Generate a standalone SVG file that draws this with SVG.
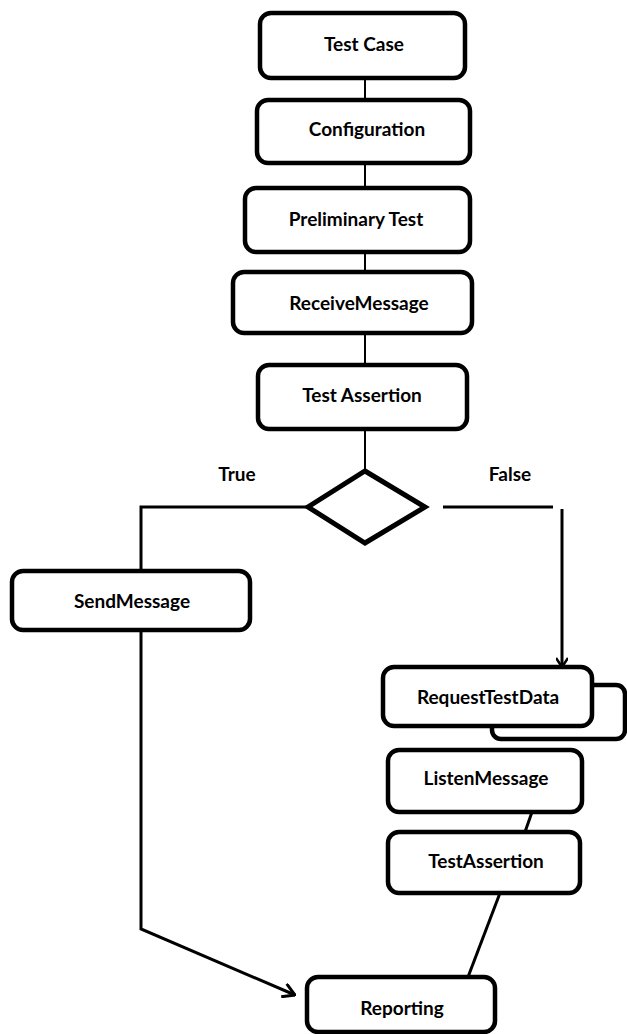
<svg xmlns="http://www.w3.org/2000/svg" width="627" height="1034" viewBox="0 0 627 1034">
<style>
.box{fill:#fff;stroke:#000;stroke-width:4.5}
.lbl{font-family:Lato,"Liberation Sans",sans-serif;font-weight:bold;font-size:19px;fill:#000;text-anchor:middle;dominant-baseline:central}
.ln{fill:none;stroke:#000;stroke-width:2}
.ln3{fill:none;stroke:#000;stroke-width:3}
</style>
<defs>
<marker id="arr" viewBox="0 0 16 16" refX="15" refY="8" markerWidth="16" markerHeight="16" markerUnits="userSpaceOnUse" orient="auto">
<path d="M3,1 L15,8 L3,15" fill="none" stroke="#000" stroke-width="3"/>
</marker>
<marker id="arr2" viewBox="0 0 12 12" refX="11" refY="6" markerWidth="12" markerHeight="12" markerUnits="userSpaceOnUse" orient="auto">
<path d="M2,0 L11,6 L2,12" fill="none" stroke="#000" stroke-width="2.5"/>
</marker>
</defs>
<rect width="627" height="1034" fill="#fff"/>
<g id="connectors">
<line class="ln" x1="365" y1="78" x2="365" y2="100"/>
<line class="ln" x1="365" y1="163" x2="365" y2="188"/>
<line class="ln" x1="365" y1="252" x2="365" y2="272"/>
<line class="ln" x1="365" y1="333" x2="365" y2="365"/>
<line class="ln" x1="365" y1="429" x2="365" y2="471"/>
<polyline class="ln3" points="308,507 141,507 141,571"/>
<polyline class="ln3" points="141,630 141,929 295,995" marker-end="url(#arr)"/>
<line class="ln3" x1="443" y1="507" x2="553" y2="507"/>
<line class="ln3" x1="562" y1="509" x2="562" y2="667" marker-end="url(#arr2)"/>
<line class="ln3" x1="532" y1="812" x2="525" y2="832"/>
<line class="ln3" x1="500" y1="893" x2="468" y2="977"/>
<text class="lbl" x="237" y="473">True</text>
<text class="lbl" x="510" y="473">False</text>
</g>
<g id="test-case"><rect class="box" x="260" y="13" width="205" height="65" rx="11"/><text class="lbl" x="364" y="43">Test Case</text></g>
<g id="configuration"><rect class="box" x="257" y="100" width="213" height="63" rx="11"/><text class="lbl" x="367" y="128">Configuration</text></g>
<g id="preliminary-test"><rect class="box" x="245" y="188" width="225" height="64" rx="11"/><text class="lbl" x="356" y="218">Preliminary Test</text></g>
<g id="receive-message"><rect class="box" x="233" y="272" width="239" height="61" rx="11"/><text class="lbl" x="359" y="302">ReceiveMessage</text></g>
<g id="test-assertion"><rect class="box" x="258" y="365" width="209" height="64" rx="11"/><text class="lbl" x="362" y="394">Test Assertion</text></g>
<g id="decision"><polygon points="365,471 425,507 365,543 308,507" fill="#fff" stroke="#000" stroke-width="5" stroke-linejoin="miter"/></g>
<g id="send-message"><rect class="box" x="12" y="571" width="238" height="59" rx="11"/><text class="lbl" x="132" y="600">SendMessage</text></g>
<g id="request-test-data"><rect class="box" x="492" y="685" width="133" height="54" rx="9"/><rect class="box" x="383" y="667" width="209" height="59" rx="11"/><text class="lbl" x="488" y="696">RequestTestData</text></g>
<g id="listen-message"><rect class="box" x="388" y="750" width="194" height="62" rx="11"/><text class="lbl" x="486" y="777">ListenMessage</text></g>
<g id="test-assertion-2"><rect class="box" x="388" y="832" width="192" height="61" rx="11"/><text class="lbl" x="486" y="860">TestAssertion</text></g>
<g id="reporting"><rect class="box" x="307" y="977" width="188" height="55" rx="11"/><text class="lbl" x="402" y="1007">Reporting</text></g>
</svg>
